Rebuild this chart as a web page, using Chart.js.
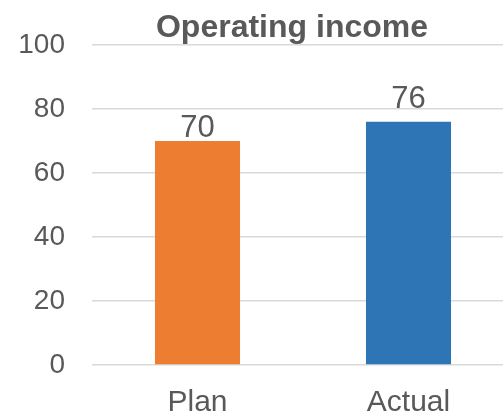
<!DOCTYPE html>
<html>
<head>
<meta charset="utf-8">
<script src="https://cdn.jsdelivr.net/npm/chart.js@4/dist/chart.umd.min.js"></script>
<style>
  html, body { margin: 0; padding: 0; background: #fff; overflow: hidden; }
  #wrap { width: 503px; height: 418px; overflow: hidden; }
</style>
</head>
<body>
<div id="wrap">
  <canvas id="chart" width="514" height="418"></canvas>
</div>
<script>
const categories = ["Plan", "Actual"];
const values = [70, 76];
const barColors = ["#ED7D31", "#2E75B6"];
const yTicks = [0, 20, 40, 60, 80, 100];

const textColor = "#595959";
const fontFamily = "'Liberation Sans', Arial, sans-serif";

// title drawn by hand so it can sit off-centre like the original sheet
const titlePlugin = {
    id: "sheetTitle",
    afterDraw(chart, args, opts) {
        const ctx = chart.ctx;
        ctx.save();
        ctx.font = "bold 32px " + fontFamily;
        ctx.fillStyle = textColor;
        ctx.textAlign = "center";
        ctx.textBaseline = "alphabetic";
        ctx.fillText(opts.text, opts.x, opts.y);
        ctx.restore();
    }
};

// value labels above each bar
const valueLabels = {
    id: "valueLabels",
    afterDatasetsDraw(chart, args, opts) {
        const ctx = chart.ctx;
        const meta = chart.getDatasetMeta(0);
        ctx.save();
        ctx.font = "31px " + fontFamily;
        ctx.fillStyle = textColor;
        ctx.textAlign = "center";
        ctx.textBaseline = "alphabetic";
        meta.data.forEach((bar, i) => {
            const v = chart.data.datasets[0].data[i];
            ctx.fillText(String(v), bar.x, bar.y - opts.gaps[i]);
        });
        ctx.restore();
    }
};

new Chart(document.getElementById("chart"), {
    type: "bar",
    data: {
        labels: categories,
        datasets: [{
            data: values,
            backgroundColor: barColors,
            borderWidth: 0,
            categoryPercentage: 1,
            barPercentage: 0.403
        }]
    },
    options: {
        responsive: false,
        animation: false,
        layout: { padding: { left: 18, top: 45, right: 0, bottom: 0 } },
        plugins: {
            legend: { display: false },
            title: { display: false },
            tooltip: { enabled: false },
            sheetTitle: { text: "Operating income", x: 292, y: 37 },
            valueLabels: { gaps: [4, 14] }
        },
        scales: {
            x: {
                grid: { display: false, drawTicks: false },
                border: { display: false },
                afterFit(scale) { scale.height = 53; },
                ticks: {
                    color: textColor,
                    padding: 23,
                    font: { family: fontFamily, size: 30, lineHeight: 1.0 }
                }
            },
            y: {
                min: 0,
                max: 100,
                afterBuildTicks(scale) {
                    scale.ticks = yTicks.map(v => ({ value: v }));
                },
                afterFit(scale) { scale.width = 74; },
                grid: { color: "#D9D9D9", lineWidth: 1.5, drawTicks: false },
                border: { display: false },
                ticks: {
                    color: textColor,
                    padding: 27,
                    font: { family: fontFamily, size: 28 }
                }
            }
        }
    },
    plugins: [titlePlugin, valueLabels]
});
</script>
</body>
</html>
